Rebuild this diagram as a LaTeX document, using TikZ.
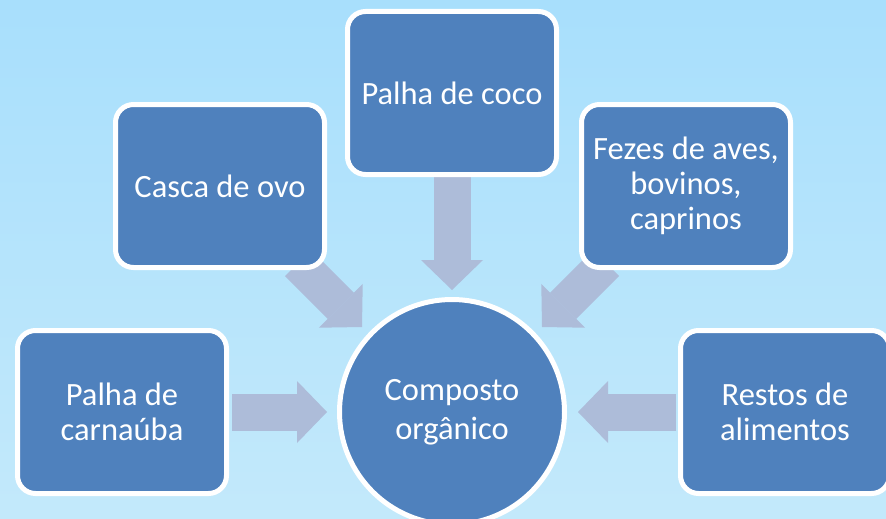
\documentclass[tikz,border=0pt]{standalone}
\usepackage{fontspec}
\setmainfont{Carlito}
\usetikzlibrary{arrows.meta,backgrounds}
\definecolor{boxblue}{HTML}{4F81BD}
\definecolor{arrowgray}{HTML}{ADBCD9}
\definecolor{skytop}{HTML}{A8DFFC}
\definecolor{skybot}{HTML}{C3E9FB}

\begin{document}
\begin{tikzpicture}[x=1pt,y=-1pt,
    source/.style={draw=white, line width=5pt, fill=boxblue, rounded corners=18pt,
        minimum width=209pt, minimum height=163pt, inner sep=0pt,
        text=white, align=center, font=\fontsize{32.5}{35}\selectfont},
    sink/.style={circle, draw=white, line width=5pt, fill=boxblue, minimum size=225pt,
        inner sep=0pt, text=white, align=center, font=\fontsize{32.5}{39}\selectfont},
    flow/.style={draw=arrowgray, line width=37pt,
        -{Triangle[length=30pt,width=62pt,line width=0pt]}}]
    \useasboundingbox (0,0) rectangle (886,519);
    \clip (0,0) rectangle (886,519);

    % sources around the compost
    \node[source] (casca) at (220,186) {Casca de ovo};
    \node[source] (coco) at (452,93) {Palha de coco};
    \node[source] (fezes) at (686,186) {Fezes de aves,\\bovinos,\\caprinos};
    \node[source] (carnauba) at (122,412) {Palha de\\carnaúba};
    \node[source] (restos) at (785,412) {Restos de\\alimentos};
    \node[sink] (comp) at (452,412) {Composto\\orgânico};

    \begin{pgfonlayer}{background}
        \fill[top color=skytop, bottom color=skybot] (0,0) rectangle (886,519);
        % block arrows into the centre
        \draw[flow] ([xshift=3pt]carnauba.east) -- ([xshift=-10pt]comp.west);
        \draw[flow] ([xshift=-2pt]restos.west) -- ([xshift=11pt]comp.east);
        \draw[flow] (coco.south) -- ([yshift=7pt]comp.north);
        \draw[flow] ([xshift=-29pt,yshift=7pt]casca.south east) -- ([xshift=-90pt,yshift=85pt]comp.center);
        \draw[flow] ([xshift=27pt,yshift=7pt]fezes.south west) -- ([xshift=90pt,yshift=85pt]comp.center);
    \end{pgfonlayer}
\end{tikzpicture}
\end{document}
